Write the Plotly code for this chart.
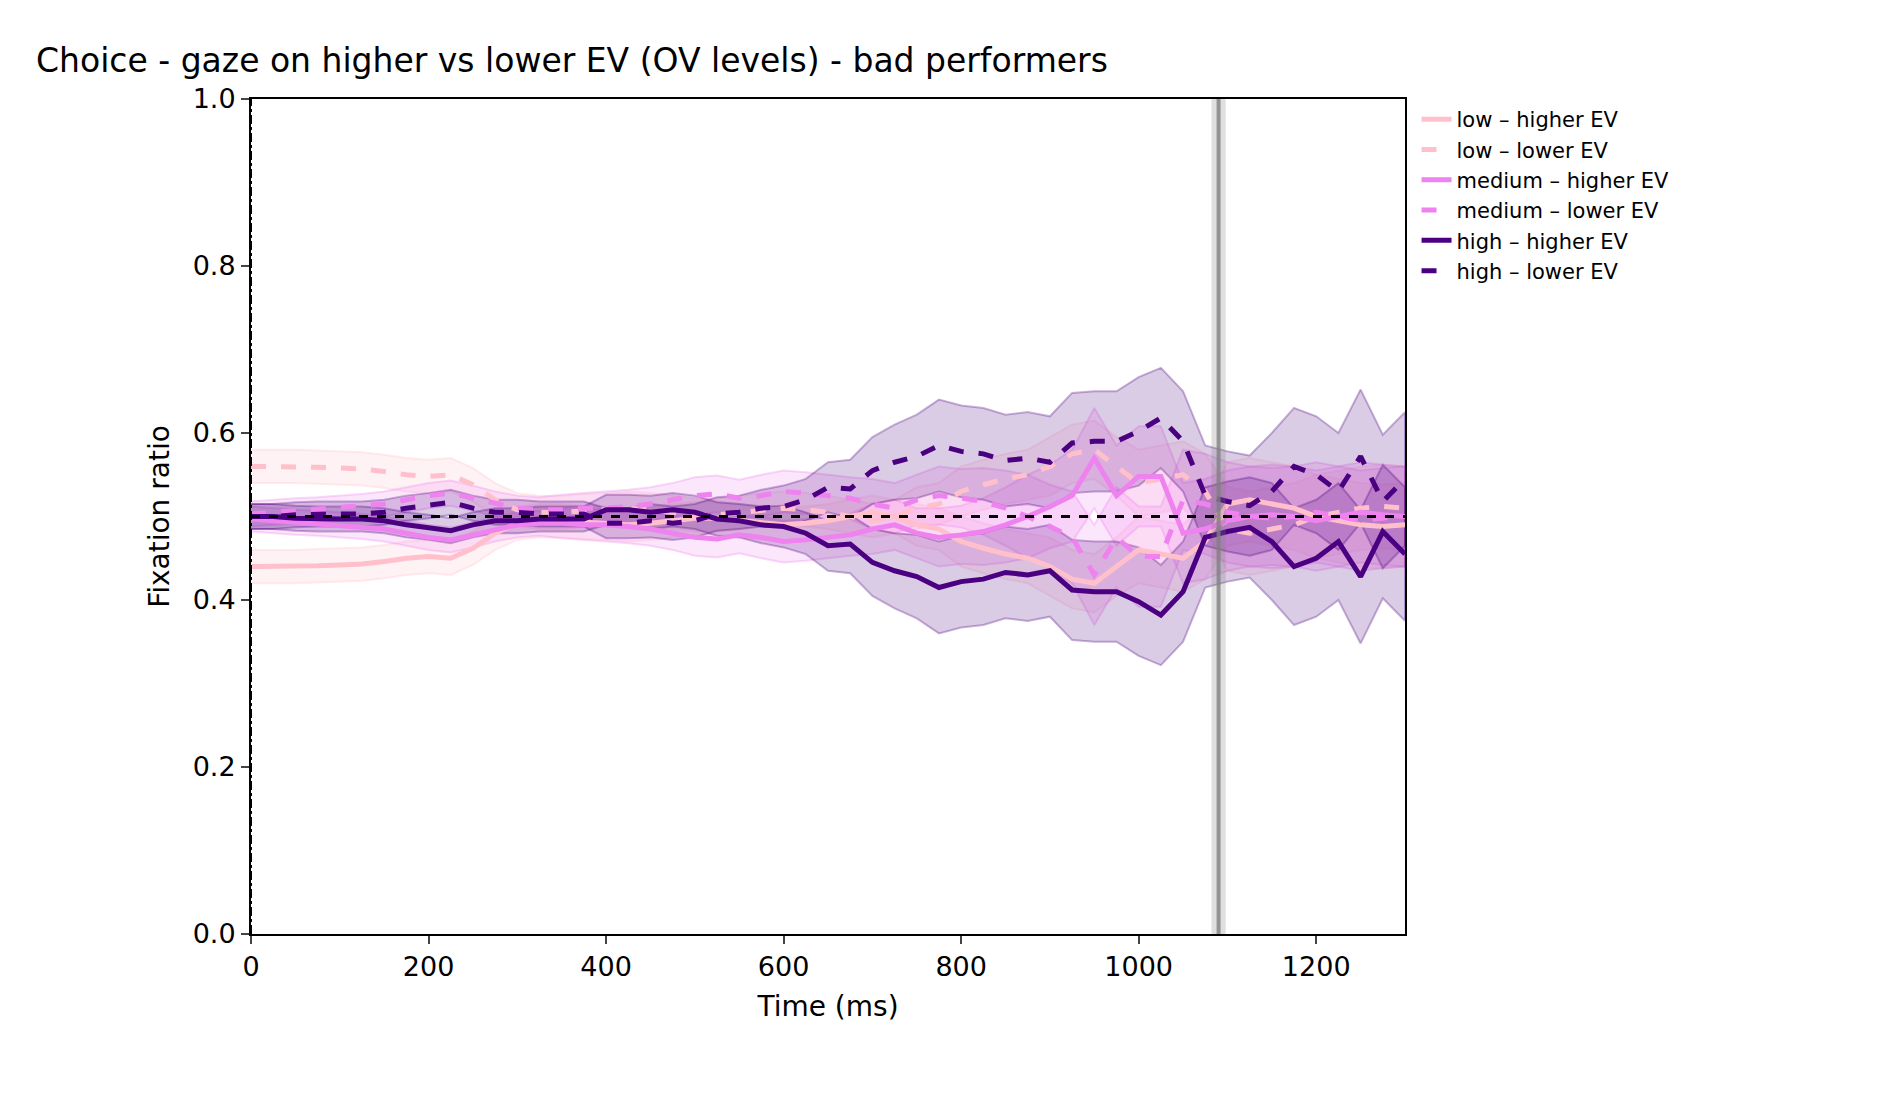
import plotly.graph_objects as go

time_ms = list(range(0, 1301, 25))

low_higher = [0.440,0.440,0.440,0.441,0.442,0.443,0.446,0.450,0.452,0.450,
              0.462,0.480,0.492,0.495,0.495,0.493,0.492,0.490,0.492,0.495,
              0.498,0.498,0.495,0.492,0.490,0.492,0.495,0.500,0.505,0.500,
              0.490,0.485,0.470,0.462,0.455,0.450,0.440,0.425,0.420,0.440,
              0.460,0.455,0.450,0.470,0.515,0.520,0.515,0.510,0.500,0.495,
              0.490,0.488,0.490]
low_lower = [0.560,0.560,0.560,0.559,0.558,0.557,0.554,0.550,0.548,0.550,
             0.538,0.520,0.508,0.505,0.505,0.507,0.508,0.510,0.508,0.505,
             0.502,0.502,0.505,0.508,0.510,0.508,0.505,0.500,0.495,0.500,
             0.510,0.515,0.530,0.538,0.545,0.550,0.560,0.575,0.580,0.560,
             0.540,0.545,0.550,0.530,0.485,0.480,0.485,0.490,0.500,0.505,
             0.510,0.512,0.510]
medium_higher = [0.497,0.495,0.493,0.492,0.490,0.488,0.485,0.480,0.475,0.472,
                 0.478,0.485,0.490,0.492,0.492,0.490,0.490,0.488,0.485,0.480,
                 0.475,0.473,0.478,0.475,0.470,0.472,0.475,0.478,0.485,0.490,
                 0.480,0.475,0.478,0.482,0.490,0.500,0.512,0.525,0.570,0.525,
                 0.548,0.548,0.480,0.485,0.495,0.500,0.502,0.500,0.495,0.500,
                 0.505,0.502,0.500]
medium_lower = [0.503,0.505,0.507,0.508,0.510,0.512,0.515,0.520,0.525,0.528,
                0.522,0.515,0.510,0.508,0.508,0.510,0.510,0.512,0.515,0.520,
                0.525,0.527,0.522,0.525,0.530,0.528,0.525,0.522,0.515,0.510,
                0.520,0.525,0.522,0.518,0.510,0.500,0.488,0.475,0.430,0.475,
                0.452,0.452,0.520,0.515,0.505,0.500,0.498,0.500,0.505,0.500,
                0.495,0.498,0.500]
high_higher = [0.500,0.500,0.498,0.497,0.497,0.497,0.495,0.490,0.487,0.483,
               0.490,0.495,0.495,0.497,0.497,0.497,0.508,0.508,0.505,0.508,
               0.505,0.497,0.495,0.490,0.488,0.480,0.465,0.467,0.445,0.435,
               0.428,0.415,0.422,0.425,0.433,0.430,0.435,0.412,0.410,0.410,
               0.398,0.382,0.410,0.475,0.482,0.487,0.470,0.440,0.450,0.470,
               0.428,0.482,0.455]
high_lower = [0.500,0.500,0.502,0.503,0.503,0.503,0.505,0.510,0.513,0.517,
              0.510,0.505,0.505,0.503,0.503,0.503,0.492,0.492,0.495,0.492,
              0.495,0.503,0.505,0.510,0.512,0.520,0.535,0.533,0.555,0.565,
              0.572,0.585,0.578,0.575,0.567,0.570,0.565,0.588,0.590,0.590,
              0.602,0.618,0.590,0.525,0.518,0.513,0.530,0.560,0.550,0.530,
              0.572,0.518,0.545]

low_ci = [0.02]*30 + [0.025,0.025,0.03,0.03,0.03,0.03,0.035,0.035,0.035,0.035,
                      0.04,0.04,0.04,0.045,0.05,0.05,0.05,0.05,0.05,0.05,
                      0.05,0.05,0.05]
medium_ci = [0.015]*10 + [0.015,0.015,0.015,0.015,0.018,0.018,0.02,0.02,0.02,0.02,
                          0.022,0.022,0.022,0.025,0.025,0.025,0.025,0.025,0.03,0.03,
                          0.03,0.035,0.035,0.04,0.045,0.05,0.05,0.055,0.06,0.06,
                          0.06,0.06,0.06,0.06,0.06,0.06,0.06,0.06,0.06,0.06,
                          0.06,0.06,0.06]
high_ci = [0.015]*16 + [0.018,0.018,0.02,0.02,
                        0.02,0.02,0.02,0.022,0.025,0.025,0.03,0.035,0.04,0.045,
                        0.05,0.055,0.055,0.055,0.055,0.055,0.055,0.06,0.06,0.06,
                        0.065,0.06,0.06,0.06,0.06,0.06,0.07,0.07,0.07,0.07,
                        0.08,0.08,0.08]

levels = ["low", "medium", "high"]
colors = {"low": (255, 192, 203), "medium": (238, 130, 238), "high": (75, 0, 130)}
series = {
    "low": (low_higher, low_lower, low_ci),
    "medium": (medium_higher, medium_lower, medium_ci),
    "high": (high_higher, high_lower, high_ci),
}
choice_time = 1090

fig = go.Figure()
for lev in levels:
    r, g, b = colors[lev]
    hi, lo, ci = series[lev]
    for vals in (hi, lo):
        upper = [v + c for v, c in zip(vals, ci)]
        lower = [v - c for v, c in zip(vals, ci)]
        fig.add_trace(go.Scatter(x=time_ms + time_ms[::-1], y=upper + lower[::-1],
                                 fill="toself", fillcolor=f"rgba({r},{g},{b},0.2)",
                                 line=dict(color=f"rgba({r},{g},{b},0.3)", width=2),
                                 hoverinfo="skip", showlegend=False))
for lev in levels:
    r, g, b = colors[lev]
    hi, lo, ci = series[lev]
    fig.add_trace(go.Scatter(x=time_ms, y=hi, mode="lines", name=f"{lev} – higher EV",
                             line=dict(color=f"rgb({r},{g},{b})", width=5)))
    fig.add_trace(go.Scatter(x=time_ms, y=lo, mode="lines", name=f"{lev} – lower EV",
                             line=dict(color=f"rgb({r},{g},{b})", width=5, dash="dash")))

fig.add_shape(type="rect", x0=choice_time - 8, x1=choice_time + 8, y0=0, y1=1,
              fillcolor="rgba(128,128,128,0.25)", line_width=0, layer="above")
fig.add_shape(type="line", x0=choice_time, x1=choice_time, y0=0, y1=1,
              line=dict(color="rgba(128,128,128,0.8)", width=4), layer="above")
fig.add_shape(type="line", x0=0, x1=1300, y0=0.5, y1=0.5,
              line=dict(color="black", width=3, dash="dash"), layer="above")
fig.add_shape(type="line", x0=0, x1=0, y0=0, y1=1,
              line=dict(color="black", width=2, dash="dashdot"), layer="above")

fig.update_layout(
    width=1888, height=1108,
    margin=dict(l=243, r=491, t=91, b=182),
    plot_bgcolor="white", paper_bgcolor="white",
    font=dict(family="DejaVu Sans", color="black"),
    title=dict(text="Choice - gaze on higher vs lower EV (OV levels) - bad performers",
               x=28/1888, xref="container", xanchor="left",
               y=1 - 52/1108, yref="container", yanchor="middle",
               font=dict(size=33)),
    xaxis=dict(range=[0, 1300], tickvals=[0, 200, 400, 600, 800, 1000, 1200],
               title=dict(text="Time (ms)", font=dict(size=28)), tickfont=dict(size=27),
               showgrid=False, zeroline=False, showline=True, linecolor="black", linewidth=2,
               mirror=True, ticks="outside", ticklen=8, tickwidth=2),
    yaxis=dict(range=[0, 1], tickvals=[0, 0.2, 0.4, 0.6, 0.8, 1.0], tickformat=".1f",
               title=dict(text="Fixation ratio", font=dict(size=28)), tickfont=dict(size=27),
               showgrid=False, zeroline=False, showline=True, linecolor="black", linewidth=2,
               mirror=True, ticks="outside", ticklen=8, tickwidth=2),
    legend=dict(x=1.01, y=1.0, xanchor="left", yanchor="top", font=dict(size=21),
                bgcolor="rgba(0,0,0,0)", tracegroupgap=0),
)

fig.write_html("out.html")
